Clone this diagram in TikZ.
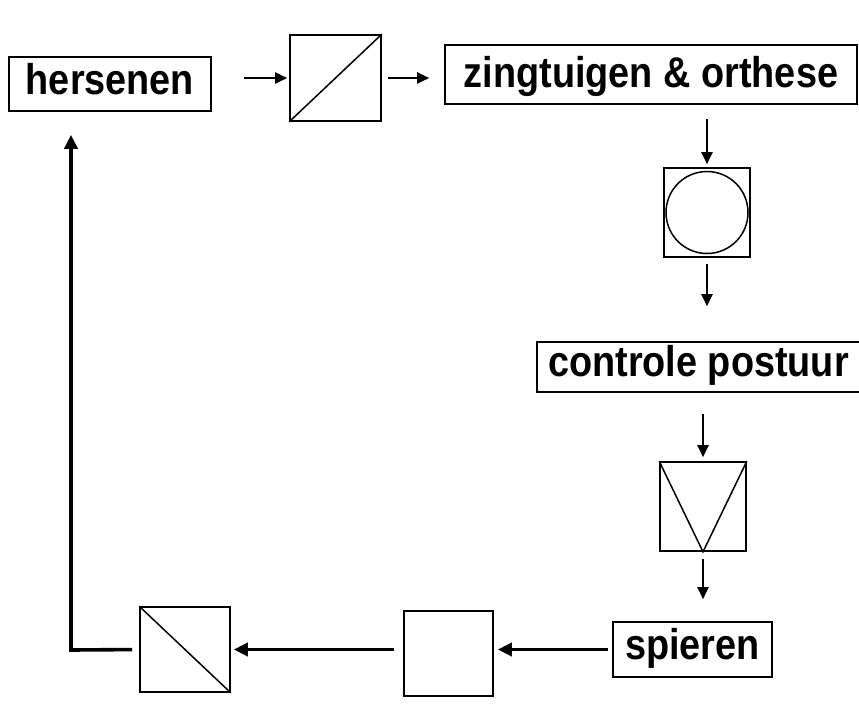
\documentclass[tikz,border=0pt]{standalone}
\usepackage{fontspec}
\setmainfont{Liberation Sans}
\newfontfamily\labelfont[FakeStretch=0.88]{Liberation Sans}
\usetikzlibrary{arrows.meta,calc}

\tikzset{
  label box/.style={draw, line width=1.6pt, inner sep=0pt, font=\labelfont\fontsize{43}{45}\selectfont\bfseries,
                    text height=28pt, text depth=8pt},
  block/.style={draw, line width=1.6pt, inner sep=0pt},
  thin link/.style={line width=2pt, -{Triangle[length=12pt,width=11pt]}},
  thick link/.style={line width=3.6pt, -{Triangle[length=14pt,width=13pt]}},
}

\begin{document}
\begin{tikzpicture}[x=1pt,y=-1pt]
\useasboundingbox (0,0) rectangle (859,724);

% labelled boxes
\node[label box, minimum width=202pt, minimum height=54pt] (hersenen) at (110,84) {hersenen};
\node[label box, minimum width=412pt, minimum height=59pt, text height=33pt] (zintuig) at (651,74.5) {zingtuigen \& orthese};
\node[label box, minimum width=323pt, minimum height=50pt, text height=26pt] (postuur) at (698.5,367) {controle postuur};
\node[label box, minimum width=159pt, minimum height=55pt] (spieren) at (692.5,649.5) {spieren};

% symbol blocks
\node[block, minimum width=91pt, minimum height=86pt] (sensor) at (335.5,78) {};
\node[block, minimum width=86pt, minimum height=89pt] (rond) at (707,212.5) {};
\node[block, minimum width=86pt, minimum height=89pt] (vblok) at (703,506.5) {};
\node[block, minimum width=89pt, minimum height=85pt] (leeg) at (448.5,653.5) {};
\node[block, minimum width=90pt, minimum height=85pt] (terug) at (185,649.5) {};

% block symbols
\draw[line width=1.5pt] (sensor.south west) -- (sensor.north east);
\draw[line width=1.5pt] (rond.center) circle (41pt);
\draw[line width=1.5pt] (vblok.north west) -- (vblok.south) -- (vblok.north east);
\draw[line width=1.5pt] (terug.north west) -- (terug.south east);

% forward chain
\draw[thin link, shorten <=32pt, shorten >=2pt] (hersenen.east |- sensor.west) -- (sensor.west);
\draw[thin link, shorten <=6pt, shorten >=15pt] (sensor.east) -- (sensor.east -| zintuig.west);
\draw[thin link, shorten <=14pt, shorten >=3pt] (zintuig.south -| rond.north) -- (rond.north);
\draw[thin link, shorten <=6pt, shorten >=35pt] (rond.south) -- (rond.south |- postuur.north);
\draw[thin link, shorten <=21pt, shorten >=4pt] (postuur.south -| vblok.north) -- (vblok.north);
\draw[thin link, shorten <=7pt, shorten >=22pt] (vblok.south) -- (vblok.south |- spieren.north);

% feedback chain
\draw[thick link, shorten <=4pt, shorten >=4pt] (spieren.west) -- (spieren.west -| leeg.east);
\draw[thick link, shorten <=9pt, shorten >=3pt] (leeg.west |- terug.east) -- (terug.east);
\coordinate (hoek) at (71,650);
\draw[thick link, shorten <=7pt, shorten >=23pt] (terug.west) -- (hoek) -- (hoek |- hersenen.south);
\end{tikzpicture}
\end{document}
